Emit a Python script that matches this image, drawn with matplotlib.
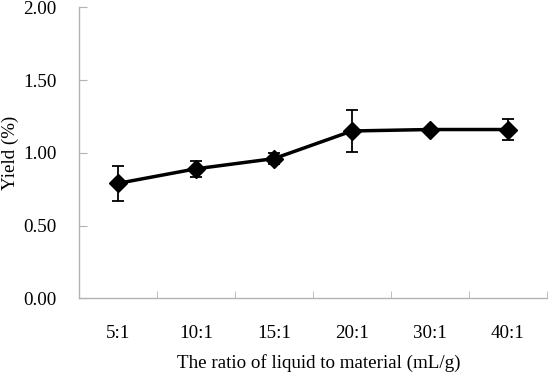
import matplotlib
matplotlib.use("Agg")
import matplotlib.pyplot as plt
import numpy as np

categories = ["5:1", "10:1", "15:1", "20:1", "30:1", "40:1"]
yield_vals = [0.79, 0.89, 0.96, 1.15, 1.16, 1.16]
yield_err = [0.12, 0.055, 0.04, 0.145, 0.0, 0.07]
y_ticks = [0.00, 0.50, 1.00, 1.50, 2.00]

plt.rcParams['font.family'] = ['Liberation Serif', 'DejaVu Serif']

fig = plt.figure(figsize=(5.5, 3.78), dpi=100)
ax = fig.add_axes([79/550, 1-298.3/378, (547-79)/550, (298.3-7.3)/378])

x = np.arange(len(categories))
ax.errorbar(x, yield_vals, yerr=yield_err, color='black', lw=2.5,
            marker='D', markersize=9, ecolor='black', elinewidth=1.3,
            capsize=4.5, capthick=1.3, zorder=3)

ax.set_xlim(-0.5, len(categories) - 0.5)
ax.set_ylim(0, 2.0)
ax.set_yticks(y_ticks)
ax.set_yticklabels([f"{v:.2f}" for v in y_ticks])
ax.set_xticks(x)
ax.set_xticklabels(categories)
ax.set_xticks(np.arange(0.5, len(categories) - 0.5 + 0.01, 1.0), minor=True)

for s in ['top', 'right']:
    ax.spines[s].set_visible(False)
for s in ['left', 'bottom']:
    ax.spines[s].set_color('#b3b3b3')
    ax.spines[s].set_linewidth(1.0)

fs = 13.7
ax.tick_params(axis='y', direction='in', length=6, color='#b3b3b3',
               labelsize=fs, pad=16)
ax.tick_params(axis='x', which='major', length=0, labelsize=fs, pad=19)
ax.tick_params(axis='x', which='minor', direction='in', length=5,
               color='#b3b3b3')

ax.set_ylabel("Yield (%)", fontsize=fs)
ax.yaxis.set_label_coords(-60/468, 0.5)
ax.set_xlabel("The ratio of liquid to material (mL/g)", fontsize=fs)
ax.xaxis.set_label_coords(0.512, -0.192)

fig.savefig("out.png", dpi=100)
